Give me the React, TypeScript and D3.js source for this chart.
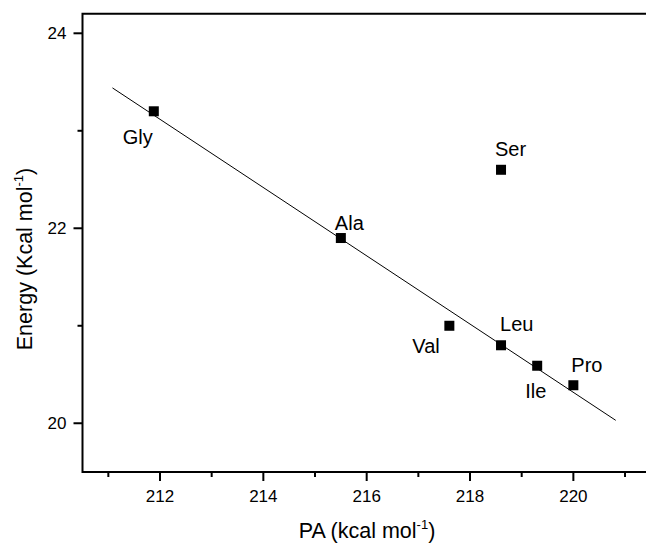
import React, { useEffect, useRef } from 'react';
import * as d3 from 'd3';

// amino acid data: PA (kcal/mol) vs energy (kcal/mol)
const names = ['Gly', 'Ala', 'Ser', 'Val', 'Leu', 'Ile', 'Pro'];
const paValues = [211.88, 215.5, 218.6, 217.6, 218.6, 219.3, 220.0];
const energyValues = [23.2, 21.9, 22.6, 21.0, 20.8, 20.59, 20.39];

// label offsets relative to point (dx, dy to text start / baseline)
const labelDx = [-31, -6, -6, -37, -1, -12, -2];
const labelDy = [33, -8, -14, 27, -14, 32, -13];

// fitted line endpoints
const fitX = [211.08, 220.82];
const fitY = [23.44, 20.03];

const xTicks = [212, 214, 216, 218, 220];
const xMinor = [211, 213, 215, 217, 219, 221];
const yTicks = [20, 22, 24];
const yMinor = [21, 23];

const FONT = '"Liberation Sans", Arial, Helvetica, sans-serif';

export default function App() {
  const ref = useRef<HTMLDivElement>(null);

  useEffect(() => {
    const width = 646;
    const height = 544;
    d3.select(ref.current).selectAll('*').remove();

    const svg = d3.select(ref.current)
      .append('svg')
      .attr('width', width)
      .attr('height', height)
      .style('display', 'block')
      .style('background', '#fff')
      .style('font-family', FONT);

    const x = d3.scaleLinear().domain([210.5, 222]).range([82.5, 676.7]);
    const y = d3.scaleLinear().domain([19.5, 24.2]).range([472, 13.8]);

    const x0 = x(210.5);
    const y0 = y(19.5);
    const yTop = y(24.2);

    // frame: left, bottom, top
    svg.append('path')
      .attr('d', `M${width + 5},${yTop} L${x0},${yTop} L${x0},${y0} L${width + 5},${y0}`)
      .attr('fill', 'none')
      .attr('stroke', '#000')
      .attr('stroke-width', 2);

    // x ticks
    svg.selectAll('.xt')
      .data(xTicks)
      .enter()
      .append('line')
      .attr('x1', d => x(d)).attr('x2', d => x(d))
      .attr('y1', y0).attr('y2', y0 + 9)
      .attr('stroke', '#000').attr('stroke-width', 2);

    svg.selectAll('.xm')
      .data(xMinor)
      .enter()
      .append('line')
      .attr('x1', d => x(d)).attr('x2', d => x(d))
      .attr('y1', y0).attr('y2', y0 + 5)
      .attr('stroke', '#000').attr('stroke-width', 2);

    svg.selectAll('.xl')
      .data(xTicks)
      .enter()
      .append('text')
      .attr('x', d => x(d))
      .attr('y', y0 + 30)
      .attr('text-anchor', 'middle')
      .attr('font-size', 17)
      .text(d => d);

    // y ticks
    svg.selectAll('.yt')
      .data(yTicks)
      .enter()
      .append('line')
      .attr('x1', x0 - 9).attr('x2', x0)
      .attr('y1', d => y(d)).attr('y2', d => y(d))
      .attr('stroke', '#000').attr('stroke-width', 2);

    svg.selectAll('.ym')
      .data(yMinor)
      .enter()
      .append('line')
      .attr('x1', x0 - 5).attr('x2', x0)
      .attr('y1', d => y(d)).attr('y2', d => y(d))
      .attr('stroke', '#000').attr('stroke-width', 2);

    svg.selectAll('.yl')
      .data(yTicks)
      .enter()
      .append('text')
      .attr('x', x0 - 16)
      .attr('y', d => y(d) + 6)
      .attr('text-anchor', 'end')
      .attr('font-size', 17)
      .text(d => d);

    // fitted line
    svg.append('line')
      .attr('x1', x(fitX[0])).attr('y1', y(fitY[0]))
      .attr('x2', x(fitX[1])).attr('y2', y(fitY[1]))
      .attr('stroke', '#000')
      .attr('stroke-width', 1);

    // points
    const pts = names.map((n, i) => ({ n, px: paValues[i], e: energyValues[i], i }));
    svg.selectAll('.pt')
      .data(pts)
      .enter()
      .append('rect')
      .attr('x', d => x(d.px) - 5)
      .attr('y', d => y(d.e) - 5)
      .attr('width', 10)
      .attr('height', 10)
      .attr('fill', '#000');

    svg.selectAll('.lab')
      .data(pts)
      .enter()
      .append('text')
      .attr('x', d => x(d.px) + labelDx[d.i])
      .attr('y', d => y(d.e) + labelDy[d.i])
      .attr('font-size', 20)
      .text(d => d.n);

    // axis titles
    const xt = svg.append('text')
      .attr('x', 367)
      .attr('y', 538)
      .attr('text-anchor', 'middle')
      .attr('font-size', 21.5);
    xt.append('tspan').text('PA (kcal mol');
    xt.append('tspan').attr('font-size', 13).attr('dy', -9).text('-1');
    xt.append('tspan').attr('dy', 9).text(')');

    const yt = svg.append('text')
      .attr('transform', 'translate(32, 259) rotate(-90)')
      .attr('text-anchor', 'middle')
      .attr('font-size', 21.5);
    yt.append('tspan').text('Energy (Kcal mol');
    yt.append('tspan').attr('font-size', 13).attr('dy', -9).text('-1');
    yt.append('tspan').attr('dy', 9).text(')');
  }, []);

  return (
    <div ref={ref} style={{ position: 'absolute', left: 0, top: 0 }}></div>
  );
}
